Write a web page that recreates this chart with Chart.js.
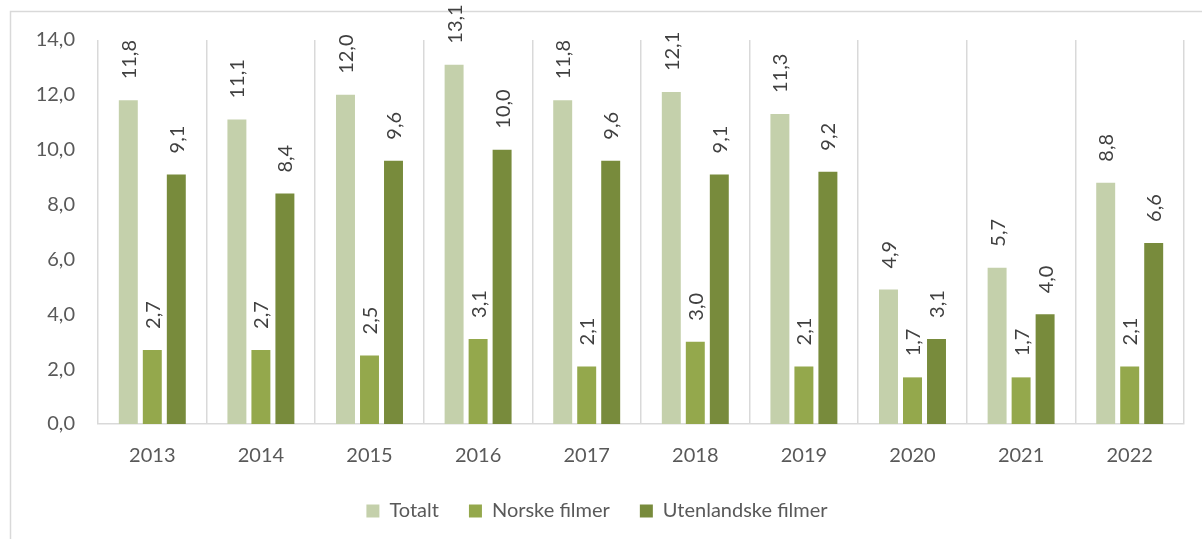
<!DOCTYPE html>
<html>
<head>
<meta charset="utf-8">
<script src="https://cdn.jsdelivr.net/npm/chart.js@4"></script>
<style>
html,body{margin:0;padding:0;background:#fff;}
#wrap{width:1202px;height:539px;position:relative;}
</style>
</head>
<body>
<div id="wrap"><canvas id="c" width="1202" height="539"></canvas></div>
<script>
const categories = ['2013','2014','2015','2016','2017','2018','2019','2020','2021','2022'];
const totalt = [11.8, 11.1, 12.0, 13.1, 11.8, 12.1, 11.3, 4.9, 5.7, 8.8];
const norske = [2.7, 2.7, 2.5, 3.1, 2.1, 3.0, 2.1, 1.7, 1.7, 2.1];
const utenlandske = [9.1, 8.4, 9.6, 10.0, 9.6, 9.1, 9.2, 3.1, 4.0, 6.6];
const seriesNames = ['Totalt', 'Norske filmer', 'Utenlandske filmer'];
const yTicks = [0, 2, 4, 6, 8, 10, 12, 14];

const FONT = 'Lato';
const fmt = v => v.toFixed(1).replace('.', ',');

const framePlugin = {
  id: 'frame',
  beforeDraw(chart) {
    const ctx = chart.ctx;
    ctx.save();
    ctx.strokeStyle = '#d9d9d9';
    ctx.lineWidth = 1.5;
    ctx.beginPath();
    ctx.moveTo(10.5, 539);
    ctx.lineTo(10.5, 11.5);
    ctx.lineTo(1202, 11.5);
    ctx.stroke();
    ctx.restore();
  }
};

const labelPlugin = {
  id: 'barLabels',
  afterDatasetsDraw(chart) {
    const ctx = chart.ctx;
    ctx.save();
    ctx.font = '20px ' + FONT;
    ctx.fillStyle = '#404040';
    ctx.textAlign = 'left';
    ctx.textBaseline = 'middle';
    chart.data.datasets.forEach((ds, di) => {
      const meta = chart.getDatasetMeta(di);
      meta.data.forEach((el, i) => {
        ctx.save();
        ctx.translate(el.x, el.y - 21);
        ctx.rotate(-Math.PI / 2);
        ctx.fillText(fmt(ds.data[i]), 0, 1);
        ctx.restore();
      });
    });
    ctx.restore();
  }
};

new Chart(document.getElementById('c'), {
  type: 'bar',
  data: {
    labels: categories,
    datasets: [
      { label: seriesNames[0], data: totalt, backgroundColor: '#c4d0ab' },
      { label: seriesNames[1], data: norske, backgroundColor: '#94a84c' },
      { label: seriesNames[2], data: utenlandske, backgroundColor: '#788b3c' }
    ]
  },
  options: {
    responsive: false,
    animation: false,
    devicePixelRatio: 1,
    categoryPercentage: 0.663,
    barPercentage: 0.79,
    layout: { padding: { left: 10, right: 18, top: 40, bottom: 8 } },
    plugins: {
      tooltip: { enabled: false },
      legend: {
        position: 'bottom',
        maxHeight: 69,
        labels: {
          font: { family: FONT, size: 20 },
          color: '#595959',
          boxWidth: 13,
          boxHeight: 13,
          padding: 30
        }
      }
    },
    scales: {
      x: {
        grid: { display: true, color: '#d9d9d9', lineWidth: 1.5, drawTicks: false, offset: true },
        border: { display: true, color: '#d9d9d9', width: 1.5 },
        ticks: { font: { family: FONT, size: 20 }, color: '#595959', padding: 20, maxRotation: 0 },
        afterFit(s) { s.height = 47; }
      },
      y: {
        min: 0, max: 14,
        afterBuildTicks(s) { s.ticks = yTicks.map(v => ({ value: v })); },
        grid: { display: false, drawTicks: false },
        border: { display: false },
        ticks: { font: { family: FONT, size: 20 }, color: '#595959', padding: 23, callback: v => fmt(v) },
        afterFit(s) { s.width = 88; }
      }
    }
  },
  plugins: [framePlugin, labelPlugin]
});
</script>
</body>
</html>
